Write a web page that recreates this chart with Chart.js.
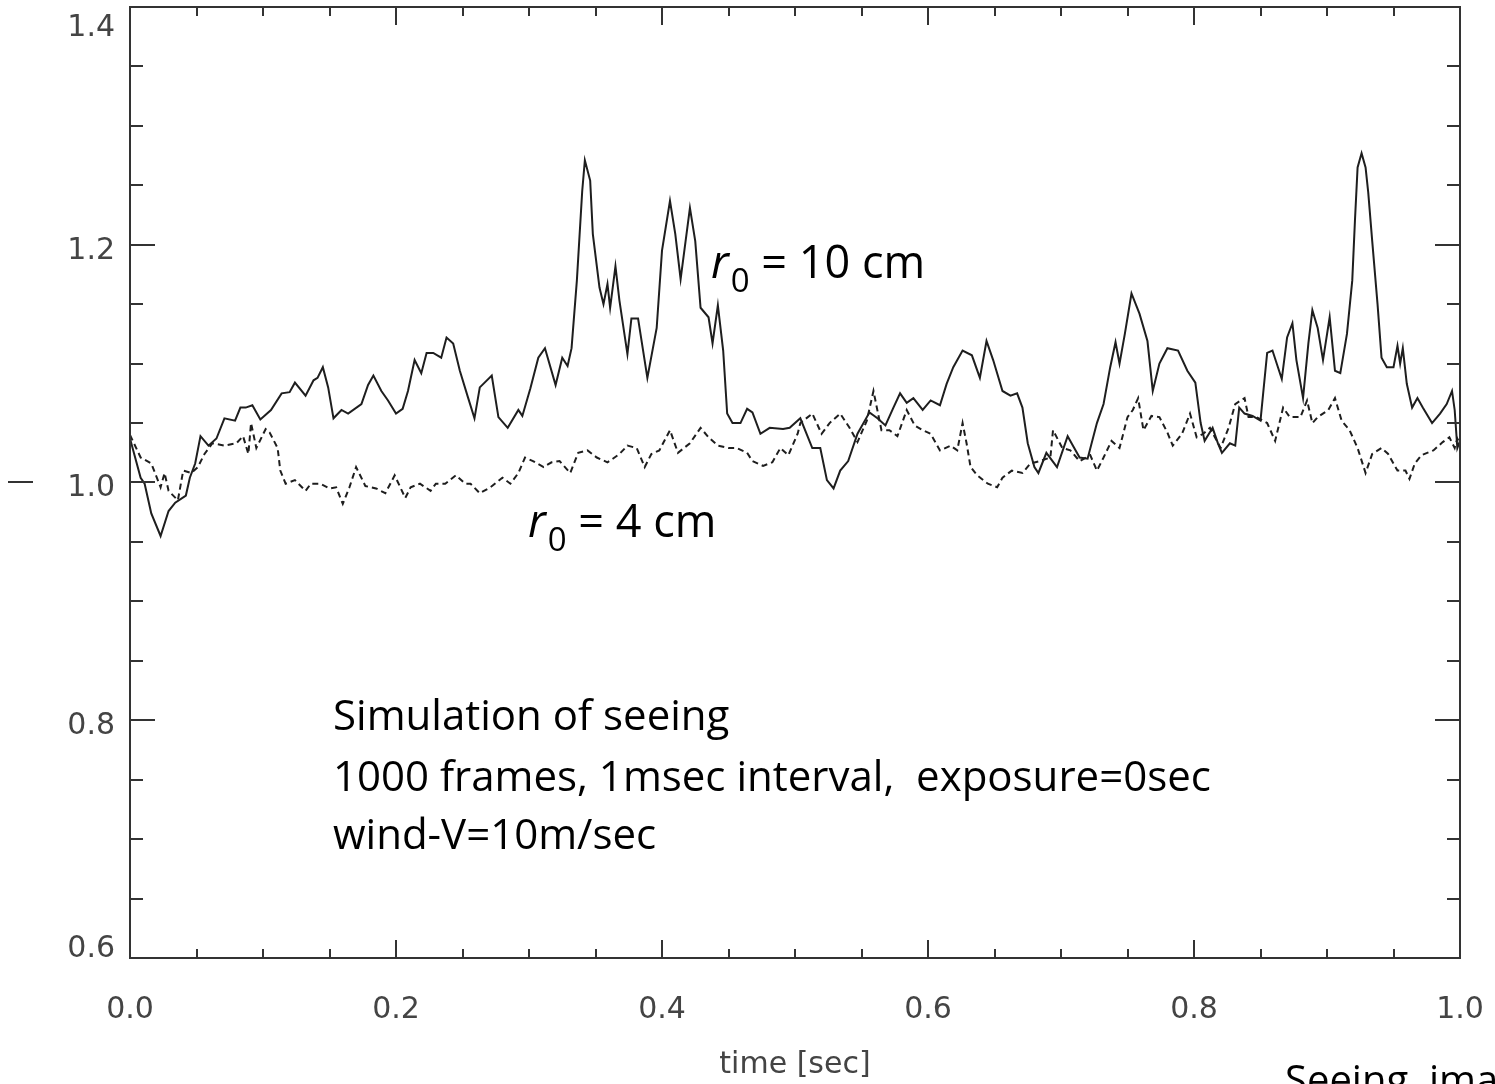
<!DOCTYPE html>
<html>
<head>
<meta charset="utf-8">
<script src="https://cdn.jsdelivr.net/npm/chart.js@4.4.0/dist/chart.umd.min.js"></script>
<style>
  html, body { margin: 0; padding: 0; background: #fff; }
  #wrap { width: 1495px; height: 1084px; position: relative; }
</style>
</head>
<body>
<div id="wrap"><canvas id="seeing"></canvas></div>
<script>
/* ── Data: frame number (1 msec each) and relative value ───────── */
const framesR10 = [
  0, 8, 11, 16, 23, 29, 34, 42, 45, 49,
  53, 59, 65, 71, 79, 83, 87, 92, 98, 106,
  114, 120, 124, 132, 138, 141, 145, 149, 153, 159,
  164, 174, 179, 183, 189, 194, 200, 205, 209, 214,
  219, 223, 228, 234, 238, 243, 248, 254, 259, 263,
  272, 277, 284, 292, 295, 301, 307, 312, 320, 325,
  329, 332, 336, 340, 342, 346, 348, 353, 356, 359,
  361, 365, 368, 374, 377, 382, 389, 396, 400, 406,
  410, 414, 421, 425, 429, 435, 438, 442, 446, 449,
  453, 459, 464, 468, 474, 481, 491, 496, 504, 513,
  519, 524, 529, 534, 540, 547, 556, 562, 568, 574,
  579, 584, 589, 596, 602, 609, 614, 619, 626, 633,
  639, 644, 649, 656, 662, 667, 671, 675, 680, 683,
  689, 697, 705, 709, 714, 720, 727, 732, 737, 741,
  744, 748, 753, 759, 765, 769, 774, 780, 788, 795,
  801, 805, 808, 814, 818, 821, 827, 831, 834, 838,
  844, 850, 852, 855, 859, 866, 870, 874, 877, 882,
  886, 889, 893, 897, 902, 906, 910, 915, 919, 921,
  923, 926, 929, 931, 934, 938, 941, 945, 950, 953,
  955, 957, 960, 964, 968, 972, 979, 985, 990, 994,
  996, 998, 1000
];
const valuesR10 = [
  1.037, 1.004, 0.999, 0.974, 0.955, 0.976, 0.983, 0.989, 1.004, 1.016,
  1.039, 1.031, 1.037, 1.054, 1.052, 1.063, 1.063, 1.065, 1.053, 1.061,
  1.075, 1.076, 1.084, 1.073, 1.086, 1.088, 1.097, 1.080, 1.054, 1.061,
  1.058, 1.066, 1.082, 1.090, 1.077, 1.069, 1.058, 1.062, 1.077, 1.103,
  1.092, 1.109, 1.109, 1.105, 1.122, 1.117, 1.094, 1.072, 1.054, 1.080,
  1.090, 1.055, 1.046, 1.061, 1.056, 1.079, 1.105, 1.113, 1.082, 1.105,
  1.098, 1.113, 1.170, 1.245, 1.271, 1.254, 1.209, 1.164, 1.150, 1.167,
  1.147, 1.182, 1.153, 1.108, 1.138, 1.138, 1.088, 1.130, 1.195, 1.237,
  1.209, 1.171, 1.231, 1.203, 1.147, 1.139, 1.117, 1.149, 1.111, 1.058,
  1.050, 1.050, 1.062, 1.059, 1.041, 1.046, 1.045, 1.046, 1.054, 1.029,
  1.029, 1.002, 0.995, 1.010, 1.018, 1.041, 1.059, 1.054, 1.048, 1.063,
  1.075, 1.067, 1.071, 1.061, 1.069, 1.065, 1.083, 1.097, 1.111, 1.107,
  1.088, 1.119, 1.103, 1.077, 1.073, 1.075, 1.063, 1.033, 1.013, 1.008,
  1.025, 1.013, 1.039, 1.031, 1.021, 1.020, 1.050, 1.066, 1.097, 1.118,
  1.100, 1.125, 1.159, 1.142, 1.119, 1.077, 1.100, 1.113, 1.111, 1.094,
  1.084, 1.050, 1.035, 1.046, 1.033, 1.025, 1.033, 1.031, 1.063, 1.058,
  1.056, 1.052, 1.075, 1.109, 1.111, 1.087, 1.122, 1.134, 1.103, 1.071,
  1.117, 1.145, 1.130, 1.103, 1.139, 1.094, 1.092, 1.125, 1.170, 1.220,
  1.265, 1.277, 1.265, 1.244, 1.203, 1.150, 1.105, 1.097, 1.097, 1.115,
  1.100, 1.113, 1.083, 1.063, 1.071, 1.063, 1.050, 1.058, 1.066, 1.077,
  1.061, 1.029, 1.035
];

const framesR4 = [
  0, 8, 16, 23, 26, 29, 36, 40, 46, 51,
  56, 62, 71, 80, 85, 89, 91, 95, 102, 105,
  111, 113, 117, 124, 132, 136, 143, 150, 155, 160,
  165, 170, 177, 185, 192, 199, 207, 211, 218, 226,
  230, 237, 245, 252, 256, 263, 271, 280, 286, 292,
  297, 303, 311, 317, 323, 331, 337, 344, 351, 359,
  363, 368, 374, 381, 387, 392, 398, 406, 412, 421,
  429, 435, 442, 450, 456, 464, 468, 476, 483, 489,
  495, 502, 504, 513, 520, 526, 534, 541, 547, 554,
  559, 565, 571, 577, 584, 590, 596, 602, 609, 617,
  622, 626, 629, 632, 637, 645, 652, 656, 663, 671,
  677, 684, 692, 694, 701, 707, 714, 722, 727, 732,
  738, 744, 750, 754, 758, 762, 768, 774, 780, 784,
  791, 797, 802, 807, 812, 820, 826, 831, 838, 841,
  847, 855, 861, 867, 872, 880, 885, 889, 893, 901,
  906, 911, 917, 923, 929, 934, 941, 946, 953, 959,
  962, 966, 971, 980, 987, 992, 996, 998, 1000
];
const valuesR4 = [
  1.040, 1.021, 1.016, 0.996, 1.008, 0.993, 0.985, 1.010, 1.008, 1.013,
  1.024, 1.033, 1.031, 1.033, 1.039, 1.024, 1.050, 1.029, 1.045, 1.042,
  1.029, 1.010, 0.999, 1.002, 0.993, 0.999, 0.999, 0.995, 0.996, 0.982,
  0.996, 1.013, 0.997, 0.995, 0.991, 1.006, 0.987, 0.996, 0.999, 0.993,
  0.999, 0.999, 1.006, 0.999, 0.999, 0.991, 0.996, 1.004, 0.999, 1.008,
  1.021, 1.018, 1.013, 1.017, 1.018, 1.008, 1.025, 1.027, 1.021, 1.017,
  1.020, 1.024, 1.031, 1.029, 1.013, 1.024, 1.027, 1.044, 1.025, 1.033,
  1.046, 1.038, 1.031, 1.029, 1.029, 1.025, 1.018, 1.014, 1.017, 1.029,
  1.023, 1.041, 1.050, 1.058, 1.041, 1.050, 1.058, 1.046, 1.034, 1.052,
  1.077, 1.044, 1.044, 1.039, 1.061, 1.048, 1.044, 1.041, 1.027, 1.031,
  1.027, 1.050, 1.033, 1.013, 1.006, 0.999, 0.996, 1.004, 1.010, 1.008,
  1.016, 1.018, 1.021, 1.044, 1.029, 1.027, 1.018, 1.023, 1.010, 1.021,
  1.035, 1.029, 1.055, 1.061, 1.071, 1.044, 1.056, 1.055, 1.042, 1.031,
  1.041, 1.058, 1.038, 1.041, 1.046, 1.029, 1.046, 1.066, 1.071, 1.055,
  1.055, 1.050, 1.035, 1.063, 1.055, 1.055, 1.069, 1.050, 1.055, 1.061,
  1.071, 1.052, 1.044, 1.029, 1.008, 1.024, 1.029, 1.024, 1.010, 1.010,
  1.003, 1.016, 1.023, 1.027, 1.034, 1.038, 1.029, 1.037, 1.033
];

/* axis ticks */
const xMajor = [0.0, 0.2, 0.4, 0.6, 0.8, 1.0];
const yMajor = [0.6, 0.8, 1.0, 1.2, 1.4];
const xMinor = [0, 5, 10, 15, 20, 25, 30, 35, 40, 45, 50, 55, 60, 65, 70, 75, 80, 85, 90, 95, 100].map(v => v / 100);
const yMinor = [60, 65, 70, 75, 80, 85, 90, 95, 100, 105, 110, 115, 120, 125, 130, 135, 140].map(v => v / 100);

const INK       = '#1e1e1e';
const AXIS_INK  = '#333';
const LABEL_INK = '#444';
const TICK_FONT = { family: 'DejaVu Sans', size: 30, weight: 'normal', lineHeight: 1.0 };
const NOTE_FONT = "'Open Sans', 'Noto Sans', sans-serif";

const toPoints = (frames, vals) => frames.map((f, i) => ({ x: f / 1000, y: vals[i] }));

// end labels sit inside the frame: pad them with an empty line
const yLabel = v => {
  const s = Number(v).toFixed(1);
  if (v === yMajor[yMajor.length - 1]) return ['', s];
  if (v === yMajor[0]) return [s, ''];
  return s;
};

/* ── Frame, inward ticks and text notes ─────────────────────── */
const framePlugin = {
  id: 'frame',
  afterDraw(chart) {
    const { ctx, chartArea: a, scales: { x, y } } = chart;
    const isMajor = (v, list) => list.some(m => Math.abs(m - v) < 1e-9);

    ctx.save();
    ctx.strokeStyle = AXIS_INK;
    ctx.lineWidth = 2;
    ctx.strokeRect(a.left, a.top, a.right - a.left, a.bottom - a.top);

    ctx.beginPath();
    xMinor.forEach(v => {
      const px = Math.round(x.getPixelForValue(v));
      const len = isMajor(v, xMajor) ? 18 : 9;
      ctx.moveTo(px, a.bottom); ctx.lineTo(px, a.bottom - len);
      ctx.moveTo(px, a.top);    ctx.lineTo(px, a.top + len);
    });
    yMinor.forEach(v => {
      const py = Math.round(y.getPixelForValue(v));
      const len = isMajor(v, yMajor) ? 25 : 13;
      ctx.moveTo(a.left, py);  ctx.lineTo(a.left + len, py);
      ctx.moveTo(a.right, py); ctx.lineTo(a.right - len, py);
    });
    ctx.stroke();

    // stray dash left of the 1.0 label
    const y1 = Math.round(y.getPixelForValue(1.0));
    ctx.beginPath();
    ctx.moveTo(8, y1); ctx.lineTo(33, y1);
    ctx.stroke();

    // r0 labels with subscript
    const rLabel = (px, base, rest) => {
      ctx.fillStyle = '#000';
      ctx.textBaseline = 'alphabetic';
      ctx.textAlign = 'left';
      ctx.font = `italic 45px ${NOTE_FONT}`;
      ctx.fillText('r', px, base);
      let cx = px + ctx.measureText('r').width + 2;
      ctx.font = `33px ${NOTE_FONT}`;
      ctx.fillText('0', cx, base + 14);
      cx += ctx.measureText('0').width;
      ctx.font = `45px ${NOTE_FONT}`;
      ctx.fillText(' ' + rest, cx, base);
    };
    rLabel(711, 278, '= 10 cm');
    rLabel(528, 537, '= 4 cm');

    ctx.font = `42px ${NOTE_FONT}`;
    ctx.fillStyle = '#000';
    ctx.fillText('Simulation of seeing', 333, 730);
    ctx.fillText('1000 frames, 1msec interval,  exposure=0sec', 333, 791);
    ctx.fillText('wind-V=10m/sec', 333, 849);
    ctx.font = `40px ${NOTE_FONT}`;
    ctx.fillText('Seeing  image', 1285, 1094);
    ctx.restore();
  }
};

new Chart(document.getElementById('seeing'), {
  type: 'scatter',
  data: {
    datasets: [
      {
        label: 'r0 = 10 cm',
        data: toPoints(framesR10, valuesR10),
        showLine: true,
        borderColor: INK,
        borderWidth: 2,
        pointRadius: 0,
        tension: 0
      },
      {
        label: 'r0 = 4 cm',
        data: toPoints(framesR4, valuesR4),
        showLine: true,
        borderColor: INK,
        borderWidth: 2,
        borderDash: [6, 4],
        pointRadius: 0,
        tension: 0
      }
    ]
  },
  options: {
    responsive: true,
    maintainAspectRatio: false,
    animation: false,
    layout: { padding: { top: 7, right: 35, left: 0, bottom: 0 } },
    plugins: { legend: { display: false }, tooltip: { enabled: false } },
    scales: {
      x: {
        type: 'linear',
        min: 0, max: 1,
        grid: { display: false, drawTicks: false },
        border: { display: false },
        afterBuildTicks: s => { s.ticks = xMajor.map(v => ({ value: v })); },
        afterFit: s => { s.height = 126; s.paddingLeft = 0; s.paddingRight = 0; },
        ticks: {
          color: LABEL_INK,
          font: TICK_FONT,
          padding: 37,
          maxRotation: 0,
          callback: v => Number(v).toFixed(1)
        },
        title: {
          display: true,
          text: 'time [sec]',
          color: LABEL_INK,
          font: TICK_FONT,
          padding: { top: 0, bottom: 4 }
        }
      },
      y: {
        type: 'linear',
        min: 0.6, max: 1.4,
        grid: { display: false, drawTicks: false },
        border: { display: false },
        afterBuildTicks: s => { s.ticks = yMajor.map(v => ({ value: v })); },
        afterFit: s => { s.width = 130; s.paddingTop = 0; s.paddingBottom = 0; },
        ticks: {
          color: LABEL_INK,
          font: TICK_FONT,
          padding: 15,
          labelOffset: 6,
          callback: yLabel
        }
      }
    }
  },
  plugins: [framePlugin]
});
</script>
</body>
</html>
